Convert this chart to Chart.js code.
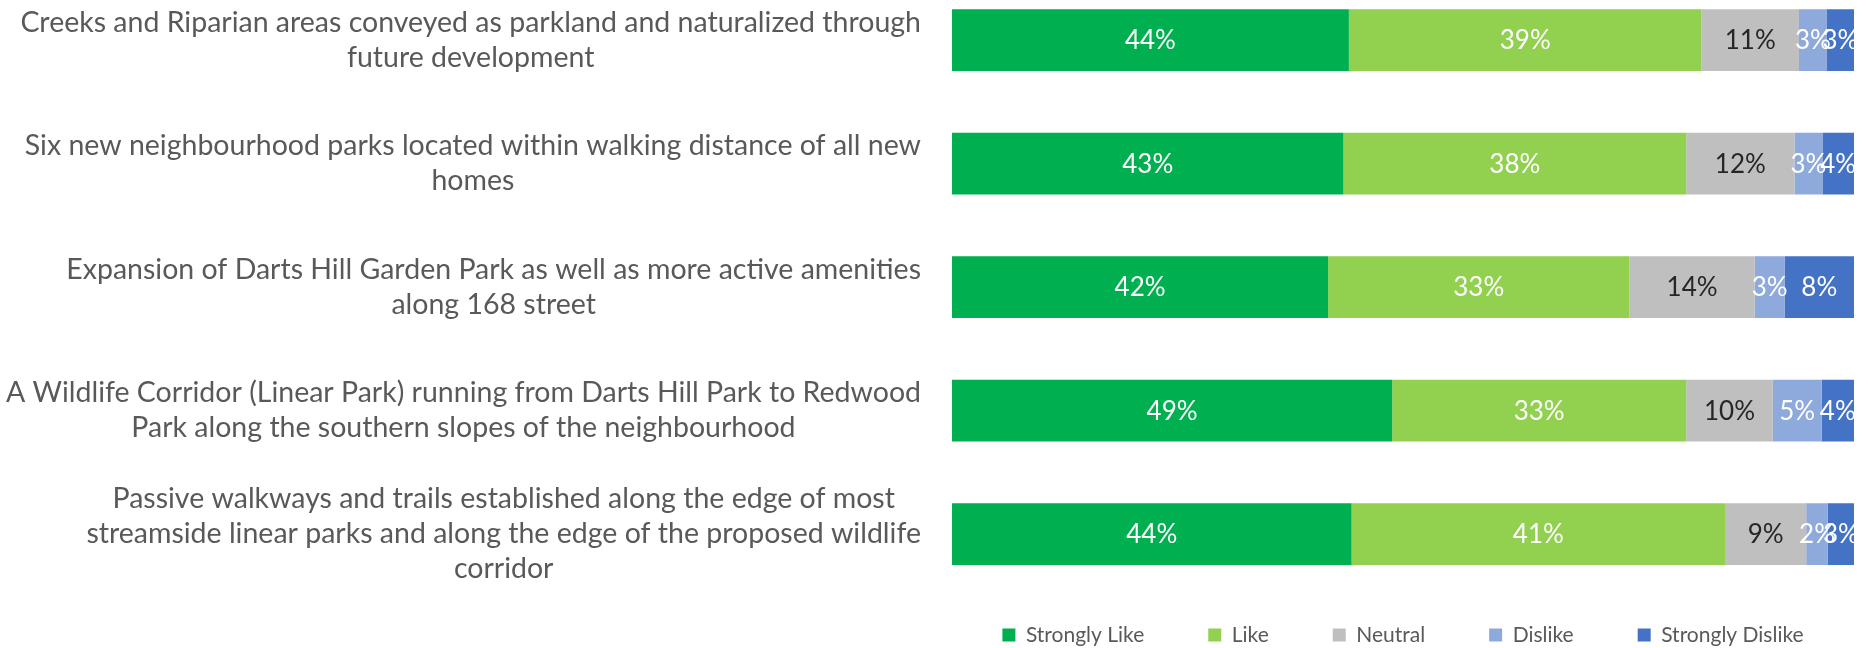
<!DOCTYPE html>
<html>
<head>
<meta charset="utf-8">
<script src="https://cdn.jsdelivr.net/npm/chart.js@4.4.1/dist/chart.umd.min.js"></script>
<style>
  html, body { margin: 0; padding: 0; background: #fff; }
</style>
</head>
<body>
<canvas id="myChart" width="1868" height="648"></canvas>
<script>
// question texts, one array of lines per bar
const categories = [
  ["Creeks and Riparian areas conveyed as parkland and naturalized through", "future development"],
  ["Six new neighbourhood parks located within walking distance of all new", "homes"],
  ["Expansion of Darts Hill Garden Park as well as more active amenities", "along 168 street"],
  ["A Wildlife Corridor (Linear Park) running from Darts Hill Park to Redwood", "Park along the southern slopes of the neighbourhood"],
  ["Passive walkways and trails established along the edge of most", "streamside linear parks and along the edge of the proposed wildlife", "corridor"],
];

const seriesNames = ["Strongly Like", "Like", "Neutral", "Dislike", "Strongly Dislike"];
const seriesColors = ["#00B050", "#92D050", "#BFBFBF", "#8EA9DB", "#4472C4"];

// percent of answers
const stronglyLike = [44.0, 43.4, 41.7, 48.8, 44.3];
const like = [39.1, 38.0, 33.4, 32.6, 41.4];
const neutral = [10.8, 12.0, 13.9, 9.6, 9.0];
const dislike = [3.1, 3.1, 3.3, 5.4, 2.4];
const stronglyDislike = [3.0, 3.5, 7.7, 3.6, 2.9];

const allSeries = [stronglyLike, like, neutral, dislike, stronglyDislike];

// question text left of the bars: block right aligned, lines centred in it
const categoryLabels = {
  id: "categoryLabels",
  afterDraw(chart) {
    const ctx = chart.ctx;
    const yScale = chart.scales.y;
    const right = chart.chartArea.left - 31;
    ctx.save();
    ctx.font = "28.5px Lato";
    ctx.fillStyle = "#595959";
    ctx.textAlign = "center";
    ctx.textBaseline = "middle";
    categories.forEach((lines, i) => {
      const y = yScale.getPixelForTick(i);
      let maxW = 0;
      lines.forEach((l) => { maxW = Math.max(maxW, ctx.measureText(l).width); });
      const cx = right - maxW / 2;
      lines.forEach((l, j) => {
        ctx.fillText(l, cx, y + (j - (lines.length - 1) / 2) * 35);
      });
    });
    ctx.restore();
  },
};

// percent labels in the middle of each segment
const valueLabels = {
  id: "valueLabels",
  afterDatasetsDraw(chart) {
    const ctx = chart.ctx;
    ctx.save();
    ctx.font = "26px Lato";
    ctx.textAlign = "center";
    ctx.textBaseline = "middle";
    chart.data.datasets.forEach((ds, d) => {
      const meta = chart.getDatasetMeta(d);
      ctx.fillStyle = d === 2 ? "#262626" : "#ffffff";
      meta.data.forEach((bar, i) => {
        const x = (bar.x + bar.base) / 2;
        ctx.fillText(Math.round(ds.data[i]) + "%", x, bar.y + 1);
      });
    });
    ctx.restore();
  },
};

// move the legend under the bars
const legendPlace = {
  id: "legendPlace",
  afterLayout(chart) {
    const lg = chart.legend;
    const area = chart.chartArea;
    lg.left = area.left - 100;
    lg.right = area.right + 100;
    lg.width = lg.right - lg.left;
    const h = lg.height;
    lg.top = 635 - 64 - 10.5;
    lg.bottom = lg.top + h;
  },
};

const data = {
  labels: categories,
  datasets: seriesNames.map((name, k) => ({
    label: name,
    data: allSeries[k],
    backgroundColor: seriesColors[k],
    borderWidth: 0,
    categoryPercentage: 1,
    barPercentage: 0.5,
    clip: false,
  })),
};

const config = {
  type: "bar",
  data: data,
  options: {
    indexAxis: "y",
    responsive: false,
    animation: false,
    layout: { padding: { left: 0, right: 14, top: 40, bottom: 19 } },
    scales: {
      x: { stacked: true, min: 0, max: 100, display: false },
      y: {
        stacked: true,
        offset: false,
        grid: { display: false },
        border: { display: false },
        ticks: { display: false },
        afterFit(scale) { scale.width = 952; },
      },
    },
    plugins: {
      legend: {
        position: "bottom",
        labels: {
          font: { family: "Lato", size: 21 },
          color: "#595959",
          boxWidth: 13,
          boxHeight: 13,
          padding: 64,
        },
      },
      tooltip: { enabled: false },
    },
  },
  plugins: [categoryLabels, valueLabels, legendPlace],
};

const myChart = new Chart(document.getElementById("myChart"), config);
</script>
</body>
</html>
